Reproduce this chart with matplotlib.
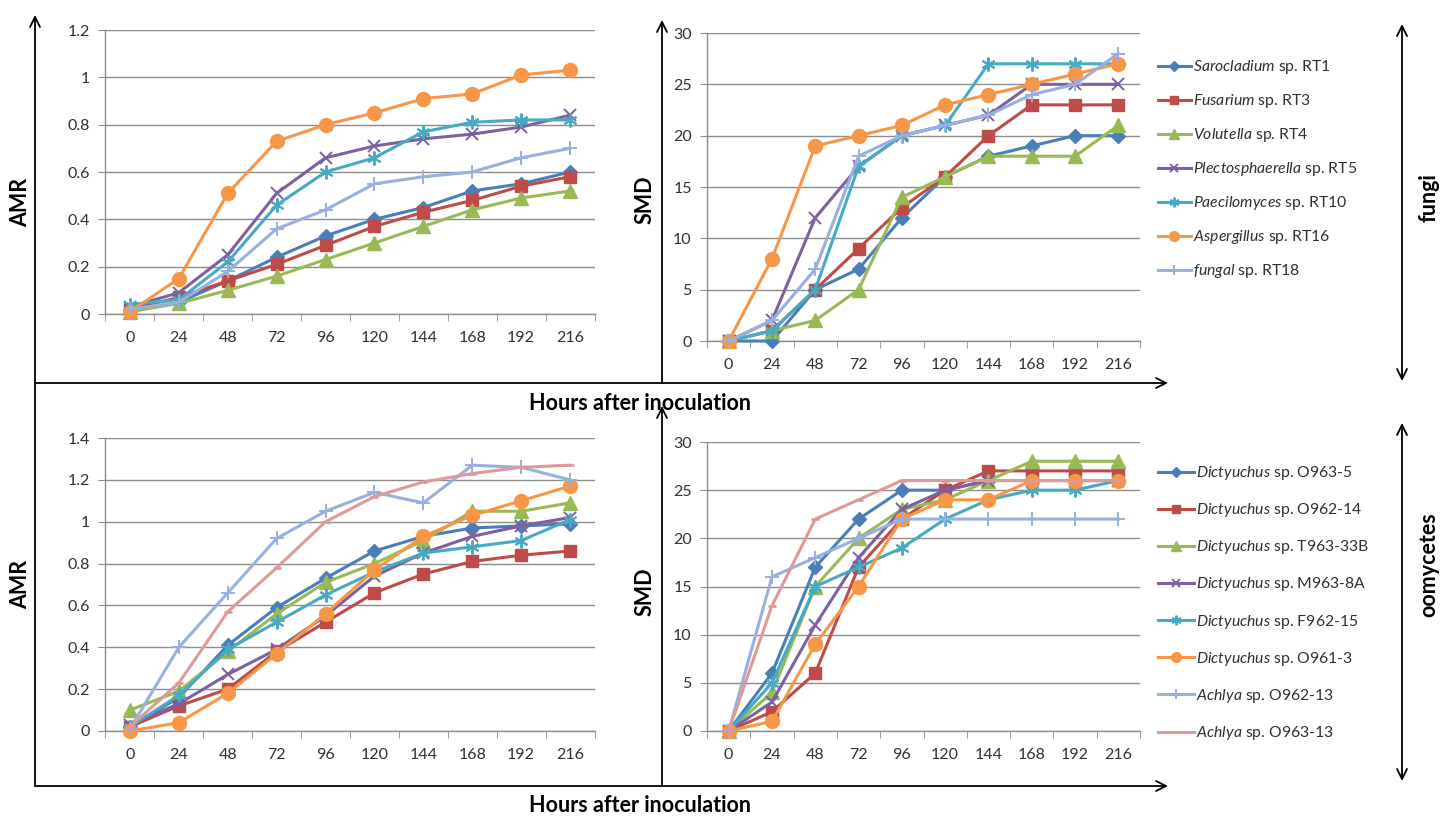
import matplotlib
matplotlib.use("Agg")
import matplotlib.pyplot as plt

plt.rcParams['font.family'] = ['Lato', 'DejaVu Sans']
plt.rcParams['mathtext.fontset'] = 'custom'
plt.rcParams['mathtext.it'] = 'Lato:italic'
plt.rcParams['mathtext.rm'] = 'Lato'

hours = ['0', '24', '48', '72', '96', '120', '144', '168', '192', '216']

# ---- fungi ----
fungi_names = [r'$\it{Sarocladium}$ sp. RT1', r'$\it{Fusarium}$ sp. RT3', r'$\it{Volutella}$ sp. RT4',
               r'$\it{Plectosphaerella}$ sp. RT5', r'$\it{Paecilomyces}$ sp. RT10',
               r'$\it{Aspergillus}$ sp. RT16', r'$\it{fungal}$ sp. RT18']
fungi_amr_rt1 = [0.01, 0.05, 0.14, 0.24, 0.33, 0.40, 0.45, 0.52, 0.55, 0.60]
fungi_amr_rt3 = [0.02, 0.07, 0.14, 0.21, 0.29, 0.37, 0.43, 0.48, 0.54, 0.58]
fungi_amr_rt4 = [0.01, 0.045, 0.10, 0.16, 0.23, 0.30, 0.37, 0.44, 0.49, 0.52]
fungi_amr_rt5 = [0.03, 0.09, 0.25, 0.51, 0.66, 0.71, 0.74, 0.76, 0.79, 0.84]
fungi_amr_rt10 = [0.04, 0.06, 0.22, 0.46, 0.60, 0.66, 0.77, 0.81, 0.82, 0.82]
fungi_amr_rt16 = [0.01, 0.15, 0.51, 0.73, 0.80, 0.85, 0.91, 0.93, 1.01, 1.03]
fungi_amr_rt18 = [0.02, 0.05, 0.18, 0.36, 0.44, 0.55, 0.58, 0.60, 0.66, 0.70]

fungi_smd_rt1 = [0, 0, 5, 7, 12, 16, 18, 19, 20, 20]
fungi_smd_rt3 = [0, 1, 5, 9, 13, 16, 20, 23, 23, 23]
fungi_smd_rt4 = [0, 1, 2, 5, 14, 16, 18, 18, 18, 21]
fungi_smd_rt5 = [0, 2, 12, 17, 20, 21, 22, 25, 25, 25]
fungi_smd_rt10 = [0, 1, 5, 17, 20, 21, 27, 27, 27, 27]
fungi_smd_rt16 = [0, 8, 19, 20, 21, 23, 24, 25, 26, 27]
fungi_smd_rt18 = [0, 2, 7, 18, 20, 21, 22, 24, 25, 28]

# ---- oomycetes ----
oomy_names = [r'$\it{Dictyuchus}$ sp. O963-5', r'$\it{Dictyuchus}$ sp. O962-14',
              r'$\it{Dictyuchus}$ sp. T963-33B', r'$\it{Dictyuchus}$ sp. M963-8A',
              r'$\it{Dictyuchus}$ sp. F962-15', r'$\it{Dictyuchus}$ sp. O961-3',
              r'$\it{Achlya}$ sp. O962-13', r'$\it{Achlya}$ sp. O963-13']
oomy_amr_o963_5 = [0.02, 0.16, 0.41, 0.59, 0.73, 0.86, 0.93, 0.97, 0.98, 0.99]
oomy_amr_o962_14 = [0.02, 0.12, 0.20, 0.38, 0.52, 0.66, 0.75, 0.81, 0.84, 0.86]
oomy_amr_t963_33b = [0.10, 0.19, 0.38, 0.56, 0.71, 0.80, 0.91, 1.05, 1.05, 1.09]
oomy_amr_m963_8a = [0.03, 0.13, 0.27, 0.39, 0.55, 0.74, 0.85, 0.93, 0.98, 1.02]
oomy_amr_f962_15 = [0.02, 0.17, 0.39, 0.52, 0.65, 0.76, 0.85, 0.88, 0.91, 1.01]
oomy_amr_o961_3 = [0.00, 0.04, 0.18, 0.37, 0.56, 0.77, 0.93, 1.03, 1.10, 1.17]
oomy_amr_o962_13 = [0.01, 0.40, 0.66, 0.92, 1.05, 1.14, 1.09, 1.27, 1.26, 1.20]
oomy_amr_o963_13 = [0.02, 0.23, 0.57, 0.78, 1.00, 1.12, 1.19, 1.23, 1.26, 1.27]

oomy_smd_o963_5 = [0, 6, 17, 22, 25, 25, 26, 26, 26, 26]
oomy_smd_o962_14 = [0, 2, 6, 17, 22, 25, 27, 27, 27, 27]
oomy_smd_t963_33b = [0, 4, 15, 20, 23, 24, 26, 28, 28, 28]
oomy_smd_m963_8a = [0, 3, 11, 18, 23, 25, 26, 26, 26, 26]
oomy_smd_f962_15 = [0, 5, 15, 17, 19, 22, 24, 25, 25, 26]
oomy_smd_o961_3 = [0, 1, 9, 15, 22, 24, 24, 26, 26, 26]
oomy_smd_o962_13 = [0, 16, 18, 20, 22, 22, 22, 22, 22, 22]
oomy_smd_o963_13 = [0, 13, 22, 24, 26, 26, 26, 26, 26, 26]

fungi_amr = [fungi_amr_rt1, fungi_amr_rt3, fungi_amr_rt4, fungi_amr_rt5,
             fungi_amr_rt10, fungi_amr_rt16, fungi_amr_rt18]
fungi_smd = [fungi_smd_rt1, fungi_smd_rt3, fungi_smd_rt4, fungi_smd_rt5,
             fungi_smd_rt10, fungi_smd_rt16, fungi_smd_rt18]
oomy_amr = [oomy_amr_o963_5, oomy_amr_o962_14, oomy_amr_t963_33b, oomy_amr_m963_8a,
            oomy_amr_f962_15, oomy_amr_o961_3, oomy_amr_o962_13, oomy_amr_o963_13]
oomy_smd = [oomy_smd_o963_5, oomy_smd_o962_14, oomy_smd_t963_33b, oomy_smd_m963_8a,
            oomy_smd_f962_15, oomy_smd_o961_3, oomy_smd_o962_13, oomy_smd_o963_13]

# styles
colors = ['#4A7EBB', '#BE4B48', '#98B954', '#7D60A0', '#46AAC5', '#F79646', '#97B0DF', '#DE9A98']
markers = ['D', 's', '^', 'x', (6, 2, 0), 'o', '+', '_']
msizes = [7.5, 9, 9.5, 9, 10, 10, 10, 6]

W, H = 1441, 816
fig = plt.figure(figsize=(W / 100, H / 100), dpi=100)


def px_axes(x0, y0, x1, y1):
    return fig.add_axes([x0 / W, 1 - y1 / H, (x1 - x0) / W, (y1 - y0) / H])


GRID = '#8C8C8C'
TXT = '#303030'


def style_panel(ax, ymax, ystep):
    ax.set_xlim(-0.5, len(hours) - 0.5)
    ax.set_ylim(0, ymax)
    n = int(round(ymax / ystep))
    ticks = [i * ystep for i in range(n + 1)]
    ax.set_yticks(ticks)
    ax.set_yticklabels([('%g' % round(t, 2)) for t in ticks])
    ax.set_xticks(range(len(hours)))
    ax.set_xticklabels(hours)
    ax.set_xticks([i - 0.5 for i in range(len(hours) + 1)], minor=True)
    ax.tick_params(axis='x', which='major', length=0, pad=12, labelsize=11.5, labelcolor=TXT)
    ax.tick_params(axis='x', which='minor', length=5, color=GRID, direction='out')
    ax.tick_params(axis='y', which='major', length=5, color=GRID, pad=6, labelsize=11.5, labelcolor=TXT)
    ax.grid(axis='y', color=GRID, lw=1)
    ax.set_axisbelow(True)
    for s in ['top', 'right']:
        ax.spines[s].set_visible(False)
    for s in ['left', 'bottom']:
        ax.spines[s].set_color(GRID)
        ax.spines[s].set_linewidth(1)


def draw_series(ax, data, names):
    handles = []
    for k, ys in enumerate(data):
        ln, = ax.plot(range(len(hours)), ys, color=colors[k], lw=2.2, marker=markers[k],
                      ms=msizes[k], mfc=colors[k], mec=colors[k],
                      mew=1.4 if k in (3, 4, 6) else 2 if k == 7 else 1,
                      label=names[k], clip_on=False, zorder=3 + k * 0.01)
        handles.append(ln)
    return handles


ax1 = px_axes(105.5, 30, 594.5, 314)
style_panel(ax1, 1.2, 0.2)
draw_series(ax1, fungi_amr, fungi_names)

ax2 = px_axes(707, 33, 1140, 341)
style_panel(ax2, 30, 5)
h2 = draw_series(ax2, fungi_smd, fungi_names)

ax3 = px_axes(105.5, 438, 594.5, 731)
style_panel(ax3, 1.4, 0.2)
draw_series(ax3, oomy_amr, oomy_names)

ax4 = px_axes(707, 442, 1140, 731)
style_panel(ax4, 30, 5)
h4 = draw_series(ax4, oomy_smd, oomy_names)

leg1 = ax2.legend(handles=h2, loc='upper left', bbox_to_anchor=(1158 / W, 1 - 58 / H),
                  bbox_transform=fig.transFigure, frameon=False, fontsize=11.3,
                  handlelength=2.1, handletextpad=0.15, labelspacing=1.02, markerscale=0.7,
                  borderaxespad=0, borderpad=0, labelcolor=TXT)
leg2 = ax4.legend(handles=h4, loc='upper left', bbox_to_anchor=(1158 / W, 1 - 464 / H),
                  bbox_transform=fig.transFigure, frameon=False, fontsize=11.3,
                  handlelength=2.3, handletextpad=0.15, labelspacing=1.22, markerscale=0.7,
                  borderaxespad=0, borderpad=0, labelcolor=TXT)

# overlay for frame arrows and labels
ov = fig.add_axes([0, 0, 1, 1], zorder=-1)
ov.set_xlim(0, W)
ov.set_ylim(H, 0)
ov.axis('off')
ov.patch.set_alpha(0)

arr = dict(arrowstyle='->', color='black', lw=1.3, mutation_scale=18, shrinkA=0, shrinkB=0)
arr2 = dict(arrowstyle='<->', color='black', lw=1.3, mutation_scale=18, shrinkA=0, shrinkB=0)
ov.annotate('', xy=(35, 15), xytext=(35, 786), arrowprops=arr)
ov.annotate('', xy=(1168, 383), xytext=(35, 383), arrowprops=arr)
ov.annotate('', xy=(1168, 786), xytext=(35, 786), arrowprops=arr)
ov.annotate('', xy=(662, 20), xytext=(662, 383), arrowprops=arr)
ov.annotate('', xy=(662, 406), xytext=(662, 786), arrowprops=arr)
ov.annotate('', xy=(1402, 24), xytext=(1402, 381), arrowprops=arr2)
ov.annotate('', xy=(1402, 423), xytext=(1402, 781), arrowprops=arr2)

bold = dict(fontsize=15.5, fontweight='bold', color='black')
ov.text(21, 202, 'AMR', rotation=90, ha='center', va='center', **bold)
ov.text(21, 584, 'AMR', rotation=90, ha='center', va='center', **bold)
ov.text(645, 200, 'SMD', rotation=90, ha='center', va='center', **bold)
ov.text(645, 592, 'SMD', rotation=90, ha='center', va='center', **bold)
ov.text(1429, 198, 'fungi', rotation=90, ha='center', va='center', **bold)
ov.text(1429, 565, 'oomycetes', rotation=90, ha='center', va='center', **bold)
ov.text(751, 403, 'Hours after inoculation', ha='right', va='center', **bold)
ov.text(751, 805, 'Hours after inoculation', ha='right', va='center', **bold)

fig.savefig('out.png', dpi=100)
